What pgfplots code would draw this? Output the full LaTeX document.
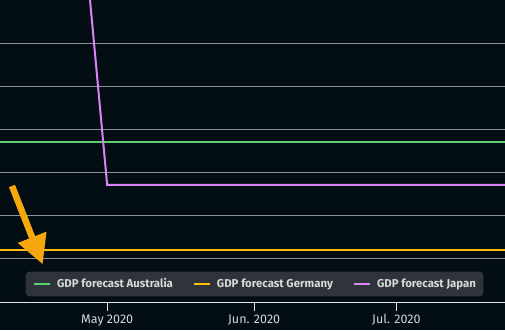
\documentclass[border=0pt]{standalone}
\usepackage{pgfplots}
\pgfplotsset{compat=1.18}
\usepackage{fontspec}
\setmainfont{Fira Sans}
\usetikzlibrary{arrows.meta}
\definecolor{bg}{HTML}{020D14}
\definecolor{gridc}{HTML}{8A9196}
\definecolor{axisc}{HTML}{E6E6E6}
\definecolor{tickc}{HTML}{D6D6D6}
\definecolor{legbg}{HTML}{2E3439}
\definecolor{legtext}{HTML}{D9D9D9}
\definecolor{ausc}{HTML}{5CCF6F}
\definecolor{gerc}{HTML}{FBBC0F}
\definecolor{japc}{HTML}{D885F5}
\definecolor{arrowc}{HTML}{F7A70E}
\begin{document}
\begin{tikzpicture}[x=1pt,y=1pt]
\fill[bg] (0,-28) rectangle (505,302);
\begin{axis}[
  scale only axis, width=505pt, height=302pt,
  at={(0,0)}, anchor=south west,
  xmin=-22.6, xmax=83.9, ymin=0, ymax=7,
  axis x line=bottom, axis y line=left,
  x axis line style={-, color=axisc, line width=1pt},
  y axis line style={draw=none},
  xtick={0,31,61}, xticklabels={May 2020, Jun. 2020, Jul. 2020},
  tick align=outside, major tick length=9pt,
  xtick style={color=axisc, line width=1pt},
  x tick label style={font=\fontsize{12.5}{14}\selectfont, text=tickc},
  ytick={1,2,3,4,5,6,7}, yticklabels={}, ytick style={draw=none},
  ymajorgrids, grid style={gridc, line width=1pt},
  legend columns=3,
  legend style={at={(rel axis cs:0.504,0.0596)}, anchor=center, fill=legbg, draw=none,
    rounded corners=4pt, text=legtext, font=\bfseries\fontsize{11.4}{13}\selectfont,
    nodes={inner sep=0pt},
    inner xsep=7.5pt, inner ysep=7pt,
    /tikz/every odd column/.append style={column sep=6pt},
    /tikz/every even column/.append style={column sep=20pt}},
  legend image code/.code={\draw[#1, line width=2pt] (0pt,0pt) -- (16pt,0pt);},
]
\addplot[ausc, line width=2pt] coordinates {(-30,3.709) (90,3.709)};
\addlegendentry{GDP forecast Australia}
\addplot[gerc, line width=2pt] coordinates {(-30,1.212) (90,1.212)};
\addlegendentry{GDP forecast Germany}
\addplot[japc, line width=2pt] coordinates {(-30,38.3) (0,2.712) (90,2.712)};
\addlegendentry{GDP forecast Japan}
\end{axis}
\draw[arrowc, line width=6.5pt, -{Triangle[length=29pt,width=29pt]}] (12,116) -- (42.7,37.7);
\pgfresetboundingbox
\path (0,-28) rectangle (505,302);
\end{tikzpicture}
\end{document}
